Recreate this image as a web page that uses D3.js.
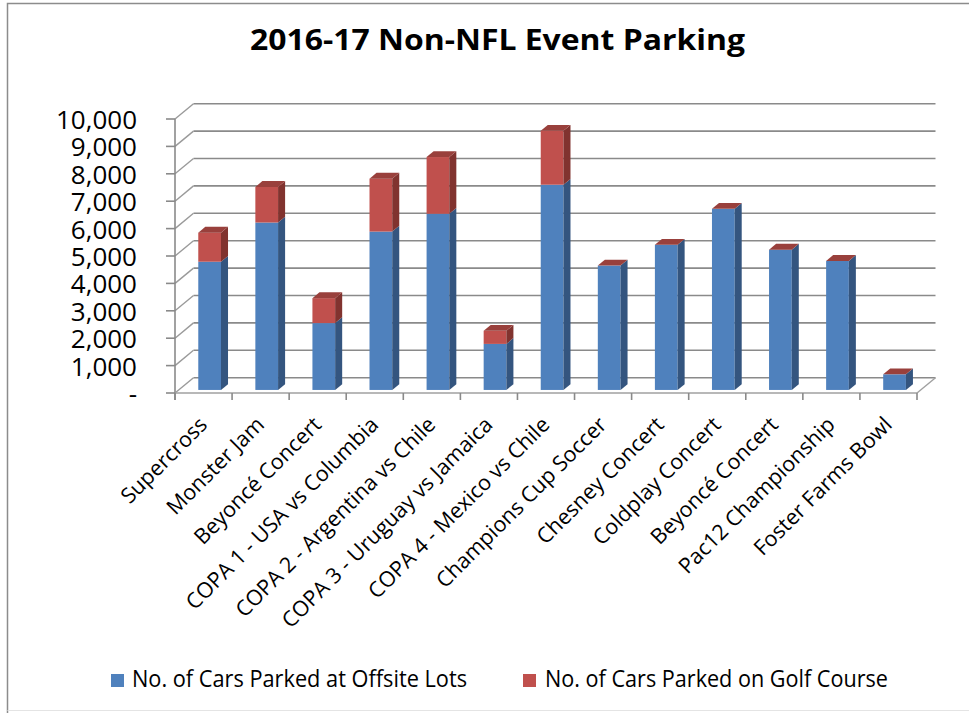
<!DOCTYPE html>
<html>
<head>
<meta charset="utf-8">
<script src="https://cdn.jsdelivr.net/npm/d3@7"></script>
<style>
  body { margin: 0; background: #fff; }
  text { font-family: "Open Sans", sans-serif; fill: #000; }
</style>
</head>
<body>
<script>
const w = 969;
const h = 713;

const categories = [
  'Supercross', 'Monster Jam', 'Beyoncé Concert', 'COPA 1 - USA vs Columbia',
  'COPA 2 - Argentina vs Chile', 'COPA 3 - Uruguay vs Jamaica', 'COPA 4 - Mexico vs Chile',
  'Champions Cup Soccer', 'Chesney Concert', 'Coldplay Concert', 'Beyoncé Concert ',
  'Pac12 Championship', 'Foster Farms Bowl'
];
const offsite = [4680, 6110, 2440, 5780, 6430, 1680, 7490, 4540, 5300, 6610, 5120, 4710, 570];
const golf = [1060, 1300, 910, 1930, 2070, 480, 1970, 0, 0, 0, 0, 0, 0];
const yTicks = [0, 1000, 2000, 3000, 4000, 5000, 6000, 7000, 8000, 9000, 10000];
const seriesNames = ['No. of Cars Parked at Offsite Lots', 'No. of Cars Parked on Golf Course'];

// depth of the 3d floor
const DX = 18.5, DY = -15.3;
const f0 = 0.2, f1 = 0.58;

const x = d3.scaleBand().domain(categories).range([175, 917]);
const y = d3.scaleLinear().domain([0, 10000]).range([393, 119]);
const bw = x.bandwidth();

const svg = d3.select('body')
  .append('svg')
  .attr('width', w)
  .attr('height', h);

// chart frame
svg.append('path')
  .attr('d', `M7.5,${h} L7.5,3.5 L${w},3.5`)
  .attr('fill', 'none')
  .attr('stroke', '#8c8c8c')
  .attr('stroke-width', 1.5);
svg.append('line')
  .attr('x1', 7.5).attr('x2', w).attr('y1', 710.5).attr('y2', 710.5)
  .attr('stroke', '#e4e4e4');

// title
svg.append('text')
  .attr('x', 250)
  .attr('y', 50)
  .attr('textLength', 495)
  .attr('lengthAdjust', 'spacingAndGlyphs')
  .style('font-size', '29px')
  .style('font-weight', 'bold')
  .text('2016-17 Non-NFL Event Parking');

const grid = svg.append('g');
const x0 = x.range()[0], x1 = x.range()[1];

// back wall gridlines + left wall diagonals
yTicks.forEach(t => {
  grid.append('line')
    .attr('x1', x0 + DX).attr('x2', x1 + DX)
    .attr('y1', y(t) + DY).attr('y2', y(t) + DY)
    .attr('stroke', '#8a8a8a').attr('stroke-width', 1.6);
  grid.append('line')
    .attr('x1', x0).attr('x2', x0 + DX)
    .attr('y1', y(t)).attr('y2', y(t) + DY)
    .attr('stroke', '#9a9a9a').attr('stroke-width', 1.4);
  grid.append('line')
    .attr('x1', x0 - 9).attr('x2', x0)
    .attr('y1', y(t)).attr('y2', y(t))
    .attr('stroke', '#8a8a8a').attr('stroke-width', 1.6);
});

// vertical axis and floor edges
grid.append('line')
  .attr('x1', x0).attr('x2', x0).attr('y1', y(10000)).attr('y2', y(0) + 7)
  .attr('stroke', '#8a8a8a').attr('stroke-width', 1.6);
grid.append('line')
  .attr('x1', x0).attr('x2', x1).attr('y1', y(0)).attr('y2', y(0))
  .attr('stroke', '#a0a0a0').attr('stroke-width', 1.6);
grid.append('line')
  .attr('x1', x1).attr('x2', x1 + DX).attr('y1', y(0)).attr('y2', y(0) + DY)
  .attr('stroke', '#a0a0a0').attr('stroke-width', 1.4);

// category ticks
categories.concat([null]).forEach(c => {
  const tx = c === null ? x1 : x(c);
  grid.append('line')
    .attr('x1', tx).attr('x2', tx).attr('y1', y(0)).attr('y2', y(0) + 7)
    .attr('stroke', '#8a8a8a').attr('stroke-width', 1.6);
});

// y labels
svg.append('g')
  .selectAll('text')
  .data(yTicks)
  .enter()
  .append('text')
  .attr('x', 137)
  .attr('y', d => y(d) + 10)
  .attr('text-anchor', 'end')
  .style('font-size', '26px')
  .text(d => d === 0 ? '-' : d3.format(',')(d));

// bars
const colors = [
  { front: '#4f81bd', side: '#34557f', top: '#4a79b3' },
  { front: '#c0504d', side: '#81332f', top: '#99403c' }
];

function segment(g, c, v0, v1, col, drawTop) {
  const xf = x(c) + bw * 0.343 + f0 * DX;
  const wf = bw * 0.398;
  const ddx = (f1 - f0) * DX, ddy = (f1 - f0) * DY;
  const yt = y(v1) + f0 * DY;
  const yb = y(v0) + f0 * DY;
  if (v1 > v0) {
    g.append('rect')
      .attr('x', xf).attr('y', yt).attr('width', wf).attr('height', yb - yt)
      .attr('fill', col.front);
    g.append('polygon')
      .attr('points', [[xf + wf, yt], [xf + wf + ddx, yt + ddy], [xf + wf + ddx, yb + ddy], [xf + wf, yb]].join(' '))
      .attr('fill', col.side);
  }
  if (drawTop) {
    g.append('polygon')
      .attr('points', [[xf, yt], [xf + ddx, yt + ddy], [xf + wf + ddx, yt + ddy], [xf + wf, yt]].join(' '))
      .attr('fill', col.top);
  }
}

const bars = svg.append('g');
categories.forEach((c, i) => {
  const g = bars.append('g');
  segment(g, c, 0, offsite[i], colors[0], false);
  segment(g, c, offsite[i], offsite[i] + golf[i], colors[1], true);
});

// category labels
svg.append('g')
  .selectAll('text')
  .data(categories)
  .enter()
  .append('text')
  .attr('transform', d => `translate(${x(d) + bw / 2 + 5},426) rotate(-45)`)
  .attr('text-anchor', 'end')
  .style('font-size', '21.5px')
  .text(d => d.trim());

// legend
const legend = svg.append('g');
const legendX = [111, 523];
const legendTextX = [132, 545];
const legendW = [335, 343];
seriesNames.forEach((s, i) => {
  legend.append('rect')
    .attr('x', legendX[i]).attr('y', 674)
    .attr('width', 13).attr('height', 13)
    .attr('fill', colors[i].front);
  legend.append('text')
    .attr('x', legendTextX[i]).attr('y', 687)
    .attr('textLength', legendW[i])
    .attr('lengthAdjust', 'spacingAndGlyphs')
    .style('font-size', '23px')
    .text(s);
});
</script>
</body>
</html>
